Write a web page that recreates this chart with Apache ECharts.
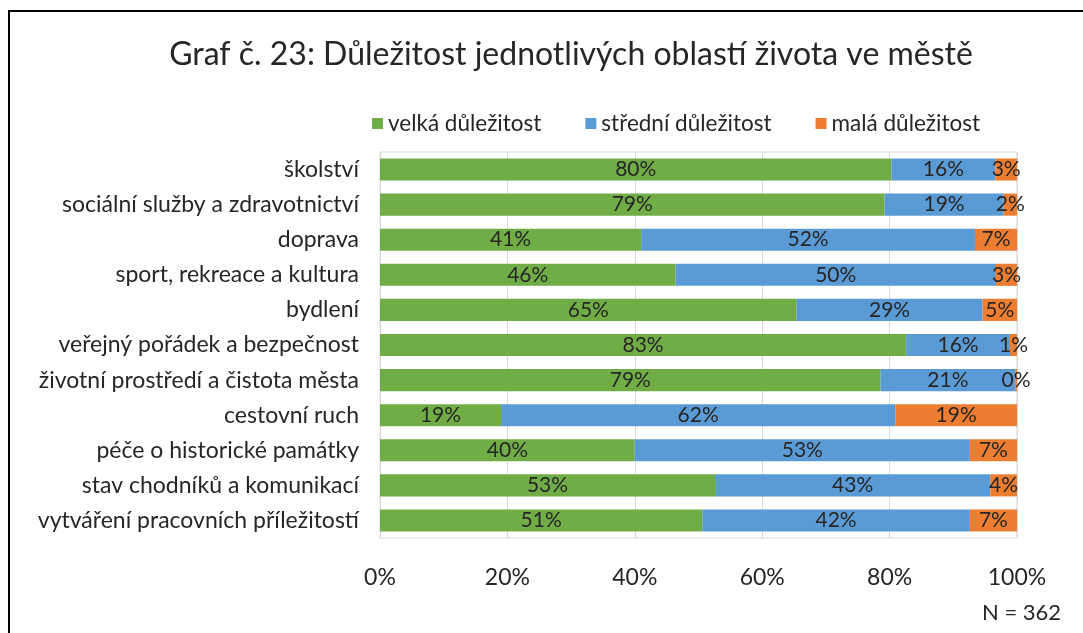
<!DOCTYPE html>
<html>
<head>
<meta charset="utf-8">
<title>Graf č. 23</title>
<script src="https://cdn.jsdelivr.net/npm/echarts@6/dist/echarts.min.js"></script>
<style>
  html, body { margin: 0; padding: 0; background: #fff; }
</style>
</head>
<body>
<div id="main" style="width: 1083px; height: 633px;"></div>
<script type="text/javascript">
// oblasti (shora dolů)
var categories = [
  'školství',
  'sociální služby a zdravotnictví',
  'doprava',
  'sport, rekreace a kultura',
  'bydlení',
  'veřejný pořádek a bezpečnost',
  'životní prostředí a čistota města',
  'cestovní ruch',
  'péče o historické památky',
  'stav chodníků a komunikací',
  'vytváření pracovních příležitostí'
];
var seriesNames = ['velká důležitost', 'střední důležitost', 'malá důležitost'];
// podíly v % odečtené z délky pruhů
var velka   = [80.3, 79.2, 41.0, 46.4, 65.4, 82.6, 78.6, 19.0, 40.0, 52.6, 50.6];
var stredni = [16.3, 18.7, 52.4, 50.3, 29.2, 16.3, 21.1, 61.9, 52.6, 43.2, 42.0];
var mala    = [3.4, 2.1, 6.6, 3.3, 5.4, 1.1, 0.3, 19.1, 7.4, 4.2, 7.4];
var xTicks  = [0, 20, 40, 60, 80, 100];
var colors  = ['#70ad47', '#5b9bd5', '#ed7d31'];

var font = 'Lato';
var myChart = echarts.init(document.getElementById('main'));

function barSeries(name, data, color) {
  return {
    name: name,
    type: 'bar',
    stack: 'total',
    data: data,
    barCategoryGap: '37%',
    itemStyle: { color: color },
    label: {
      show: true,
      position: 'inside',
      color: '#262626',
      fontFamily: font,
      fontSize: 21,
      formatter: function (p) { return Math.round(p.value) + '%'; }
    }
  };
}

var option = {
  animation: false,
  color: colors,
  title: {
    text: 'Graf č. 23: Důležitost jednotlivých oblastí života ve městě',
    left: 566,
    top: 34,
    textAlign: 'center',
    textStyle: { fontFamily: font, fontSize: 32, fontWeight: 'normal', color: '#262626' }
  },
  legend: {
    data: seriesNames,
    left: 367,
    top: 107,
    itemWidth: 11,
    itemHeight: 11,
    itemGap: 44,
    icon: 'rect',
    textStyle: { fontFamily: font, fontSize: 22.5, color: '#262626' }
  },
  grid: {
    left: 380,
    right: 66,
    top: 152,
    bottom: 95,
    show: true,
    borderColor: '#d9d9d9',
    borderWidth: 1
  },
  xAxis: {
    type: 'value',
    min: 0,
    max: 100,
    interval: 20,
    axisLine: { show: false },
    axisTick: { show: false },
    splitLine: { lineStyle: { color: '#d9d9d9' } },
    axisLabel: {
      margin: 28,
      fontFamily: font,
      fontSize: 23,
      color: '#262626',
      formatter: function (v) { return xTicks.indexOf(v) >= 0 ? v + '%' : ''; }
    }
  },
  yAxis: {
    type: 'category',
    data: categories,
    inverse: true,
    axisLine: { show: false },
    axisTick: { show: false },
    axisLabel: { margin: 21, fontFamily: font, fontSize: 23, color: '#262626' }
  },
  series: [
    barSeries(seriesNames[0], velka, colors[0]),
    barSeries(seriesNames[1], stredni, colors[1]),
    barSeries(seriesNames[2], mala, colors[2])
  ],
  graphic: [
    {
      type: 'rect',
      shape: { x: 9, y: 11, width: 1200, height: 800 },
      style: { fill: 'none', stroke: '#000', lineWidth: 2 },
      silent: true
    },
    {
      type: 'text',
      x: 982,
      y: 613,
      style: {
        text: 'N = 362', fontFamily: font, fontSize: 22, fill: '#262626',
        textAlign: 'left', textVerticalAlign: 'middle'
      }
    }
  ]
};

myChart.setOption(option);
</script>
</body>
</html>
